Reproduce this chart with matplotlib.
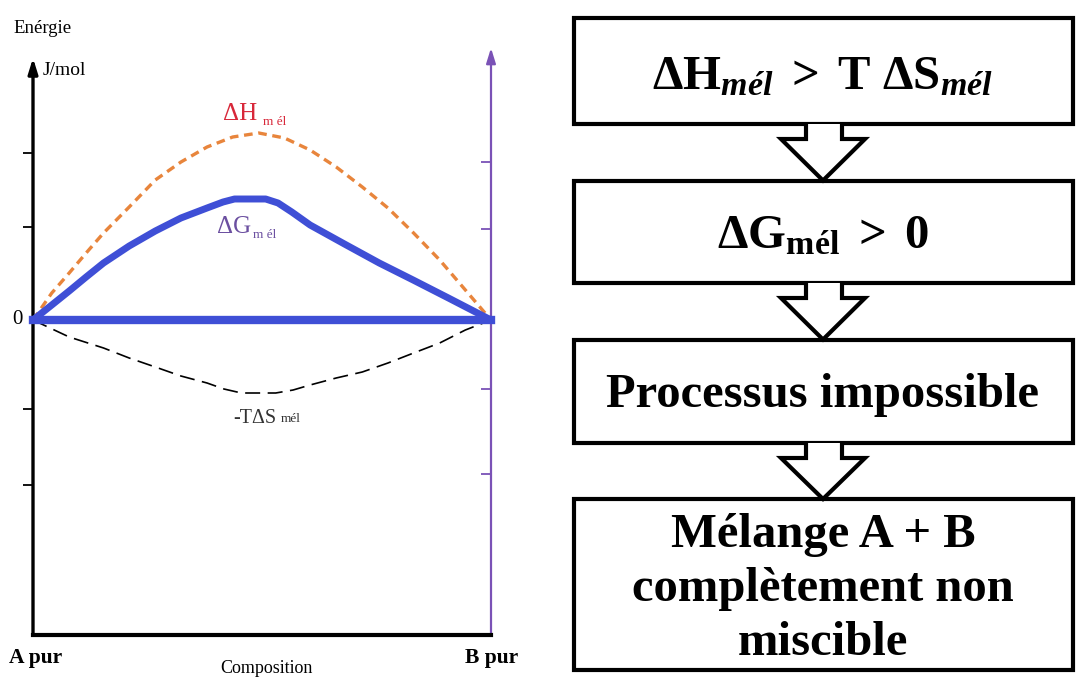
import matplotlib
matplotlib.use("Agg")
import matplotlib.pyplot as plt
from matplotlib.patches import Rectangle, Polygon

plt.rcParams["font.family"] = ["Liberation Serif", "DejaVu Serif"]
plt.rcParams["mathtext.fontset"] = "custom"
plt.rcParams["mathtext.rm"] = "Liberation Serif"
plt.rcParams["mathtext.it"] = "Liberation Serif:italic"
plt.rcParams["mathtext.bf"] = "Liberation Serif:bold"
plt.rcParams["mathtext.bfit"] = "Liberation Serif:italic:bold"

# ---- mixing energies versus composition (A pur -> B pur) ----
dh_x = [0.0, 0.041, 0.079, 0.116, 0.154, 0.210, 0.267, 0.323, 0.380, 0.436,
        0.493, 0.549, 0.605, 0.662, 0.719, 0.775, 0.831, 0.888, 0.944, 1.0]
dh_y = [0.0, 0.27, 0.47, 0.67, 0.87, 1.13, 1.40, 1.58, 1.73, 1.83,
        1.87, 1.82, 1.70, 1.53, 1.33, 1.12, 0.87, 0.60, 0.30, 0.0]

dg_x = [0.0, 0.041, 0.079, 0.116, 0.154, 0.210, 0.267, 0.323, 0.380, 0.415,
        0.440, 0.508, 0.535, 0.565, 0.605, 0.680, 0.756, 0.830, 0.907, 1.0]
dg_y = [0.0, 0.15, 0.29, 0.43, 0.57, 0.74, 0.89, 1.02, 1.12, 1.18,
        1.21, 1.21, 1.17, 1.08, 0.95, 0.76, 0.57, 0.40, 0.22, 0.0]

ts_x = [0.0, 0.079, 0.154, 0.210, 0.267, 0.323, 0.380, 0.417, 0.455, 0.530,
        0.568, 0.605, 0.662, 0.719, 0.775, 0.831, 0.888, 0.944, 1.0]
ts_y = [0.0, -0.17, -0.28, -0.38, -0.47, -0.56, -0.63, -0.69, -0.73, -0.73,
        -0.70, -0.65, -0.58, -0.52, -0.43, -0.33, -0.23, -0.10, 0.0]

zero_x = [0.0, 1.0]
zero_y = [0.0, 0.0]

left_ticks = [1.67, 0.93, -0.89, -1.65]
right_ticks = [1.58, 0.91, -0.69, -1.54]

# ---- flowchart text ----
steps = [
    r"$\mathbf{\Delta H}_{\mathbfit{mél}}\mathbf{\ >\ T\ \Delta S}_{\mathbfit{mél}}$",
    r"$\mathbf{\Delta G}_{\mathbf{mél}}\mathbf{\ >\ 0}$",
    "Processus impossible",
    "Mélange A + B\ncomplètement non\nmiscible",
]

W, H = 1076, 682
BLUE = "#3f4fd6"
ORANGE = "#e8853c"
PURPLE = "#7a52b6"

fig = plt.figure(figsize=(W / 100, H / 100), dpi=100)

# pixel-space canvas for the flowchart and the outer labels
cv = fig.add_axes([0, 0, 1, 1])
cv.set_xlim(0, W)
cv.set_ylim(H, 0)
cv.axis("off")

# ---- energy diagram ----
ax = fig.add_axes([33 / W, 1 - 635 / H, 458 / W, 590 / H])
ax.set_xlim(0, 1)
ax.set_ylim(-3.15, 2.75)
ax.patch.set_alpha(0)
for s in ("top", "left", "right"):
    ax.spines[s].set_visible(False)
ax.spines["bottom"].set_linewidth(3)
ax.set_xticks([])
ax.set_yticks(left_ticks)
ax.tick_params(axis="y", direction="out", length=7, width=1.3,
               labelleft=False, color="black")

ax2 = ax.twinx()
ax2.set_ylim(-3.15, 2.75)
for s in ax2.spines.values():
    s.set_visible(False)
ax2.set_yticks(right_ticks)
ax2.tick_params(axis="y", direction="in", length=7, width=1.3,
                labelright=False, color=PURPLE)

ax.annotate("", xy=(0, 2.62), xytext=(0, -3.15),
            arrowprops=dict(arrowstyle="-|>,head_length=0.9,head_width=0.28",
                            color="black", lw=2.4, shrinkA=0, shrinkB=0),
            annotation_clip=False, zorder=1)
ax.annotate("", xy=(1, 2.72), xytext=(1, -3.15),
            arrowprops=dict(arrowstyle="-|>,head_length=0.9,head_width=0.28",
                            color=PURPLE, lw=1.6, shrinkA=0, shrinkB=0),
            annotation_clip=False, zorder=1)

ax.plot(dh_x, dh_y, color=ORANGE, lw=2.4, dashes=(2.6, 1.7), clip_on=False, zorder=3)
ax.plot(ts_x, ts_y, color="black", lw=1.2, dashes=(9, 4.5), clip_on=False, zorder=3)
ax.plot(zero_x, zero_y, color=BLUE, lw=6, solid_capstyle="projecting",
        clip_on=False, zorder=4)
ax.plot(dg_x, dg_y, color=BLUE, lw=5, solid_joinstyle="round",
        solid_capstyle="round", clip_on=False, zorder=4)

ax.text(0.415, 2.0, "ΔH", color="#d8283a", fontsize=18, va="baseline")
ax.text(0.502, 1.95, "m él", color="#d8283a", fontsize=9.5, va="baseline")
ax.text(0.402, 0.87, "ΔG", color="#6b4fa0", fontsize=18, va="baseline")
ax.text(0.480, 0.82, "m él", color="#6b4fa0", fontsize=9.5, va="baseline")
ax.text(0.437, -1.03, "-TΔS", color="#333333", fontsize=14.5, va="baseline")
ax.text(0.542, -1.02, "mél", color="#333333", fontsize=9.5, va="baseline")

cv.text(13, 33, "Enérgie", fontsize=13.5, va="baseline", ha="left")
cv.text(43, 75, "J/mol", fontsize=14, va="baseline", ha="left")
cv.text(17, 320, "0", fontsize=15, va="center", ha="center")
cv.text(36, 663, "A pur", fontsize=15.5, fontweight="bold", va="baseline", ha="center")
cv.text(492, 663, "B pur", fontsize=15.5, fontweight="bold", va="baseline", ha="center")
cv.text(266, 673, "Composition", fontsize=13, va="baseline", ha="center")

# ---- flowchart ----
box_x0, box_x1 = 573.5, 1072.5
boxes = [(18, 124), (180.5, 283), (339.5, 443), (499, 669.5)]
for top, bot in boxes:
    cv.add_patch(Rectangle((box_x0, top), box_x1 - box_x0, bot - top,
                           facecolor="white", edgecolor="black", lw=3))

cx = (box_x0 + box_x1) / 2
for (t0, b0), (t1, b1) in zip(boxes[:-1], boxes[1:]):
    sh = b0 + 15
    pts = [(cx - 17, b0), (cx - 17, sh), (cx - 42, sh), (cx, t1),
           (cx + 42, sh), (cx + 19, sh), (cx + 19, b0)]
    cv.add_patch(Polygon(pts, closed=False, facecolor="white",
                         edgecolor="black", lw=3, joinstyle="miter"))

cv.text(cx, 89, steps[0], fontsize=35, ha="center", va="baseline")
cv.text(cx, 248, steps[1], fontsize=35, ha="center", va="baseline")
cv.text(cx, 407, steps[2], fontsize=35, fontweight="bold", ha="center", va="baseline")
for i, line in enumerate(steps[3].split("\n")):
    cv.text(cx, 547 + 54 * i, line, fontsize=35, fontweight="bold",
            ha="center", va="baseline")

fig.savefig("out.png", dpi=100)
